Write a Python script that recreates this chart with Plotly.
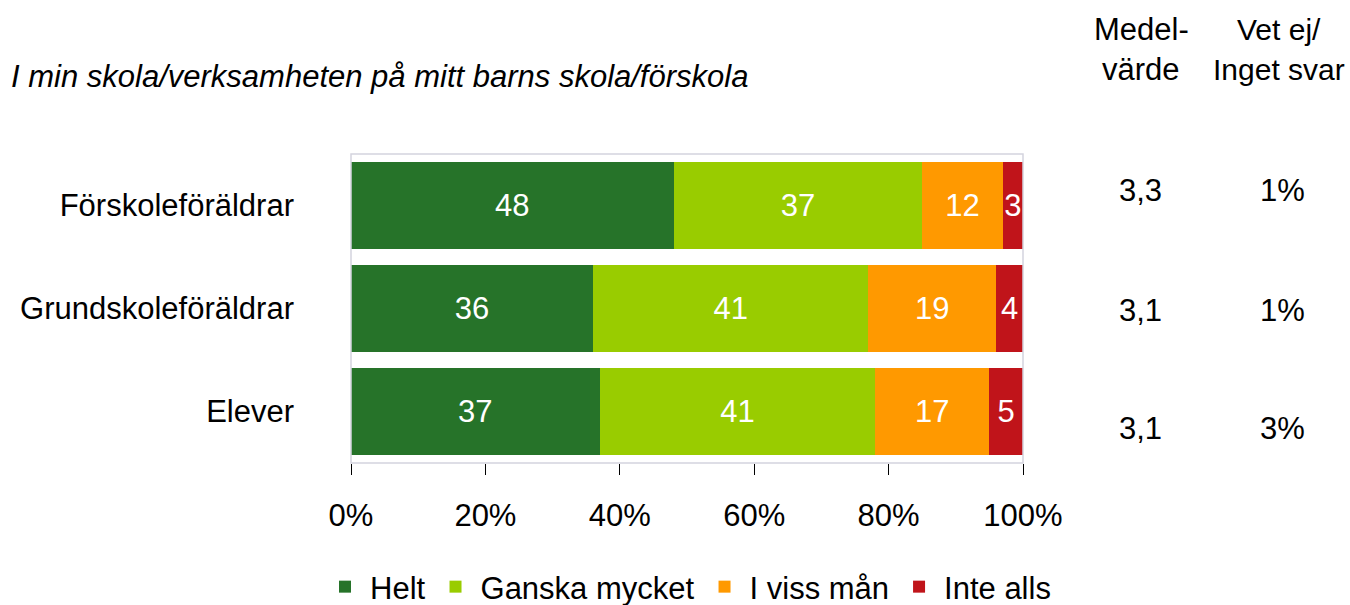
import plotly.graph_objects as go

categories = ["Förskoleföräldrar", "Grundskoleföräldrar", "Elever"]
series_names = ["Helt", "Ganska mycket", "I viss mån", "Inte alls"]
helt = [48, 36, 37]
ganska = [37, 41, 41]
viss = [12, 19, 17]
inte = [3, 4, 5]
medel = ["3,3", "3,1", "3,1"]
vetej = ["1%", "1%", "3%"]
tick_vals = [0, 20, 40, 60, 80, 100]
tick_text = ["0%", "20%", "40%", "60%", "80%", "100%"]
title_text = "I min skola/verksamheten på mitt barns skola/förskola"
header_medel = ["Medel-", "värde"]
header_vetej = ["Vet ej/", "Inget svar"]

colors = ["#267329", "#99CC00", "#FF9900", "#C0141A"]
FONT = "Liberation Sans, Arial, sans-serif"
FS = 31

W, H = 1350, 605
PLOT_TOP, PLOT_BOTTOM, PLOT_LEFT, PLOT_RIGHT = 154, 463, 351, 1023
L, T = PLOT_LEFT, PLOT_TOP
R = W - PLOT_RIGHT
B = H - PLOT_BOTTOM
ph = H - T - B
pw = W - L - R

def py(pix):
    return (PLOT_BOTTOM - pix) / ph

def px(pix):
    return (pix - PLOT_LEFT) / pw

fig = go.Figure()
for name, vals, col in zip(series_names, [helt, ganska, viss, inte], colors):
    fig.add_trace(go.Bar(
        y=categories, x=vals, name=name, orientation="h",
        marker=dict(color=col, line=dict(width=0)),
        text=[str(v) for v in vals], textposition="inside",
        insidetextanchor="middle",
        textfont=dict(color="white", size=FS, family=FONT),
        hoverinfo="skip",
    ))

ann = []
for line, ypix in zip(header_medel, [29, 70]):
    ann.append(dict(text=line, x=px(1141), y=py(ypix), xref="paper", yref="paper",
                    showarrow=False, font=dict(size=FS, family=FONT, color="black"),
                    xanchor="center", yanchor="middle"))
for line, ypix in zip(header_vetej, [29, 70]):
    ann.append(dict(text=line, x=px(1279), y=py(ypix), xref="paper", yref="paper",
                    showarrow=False, font=dict(size=30, family=FONT, color="black"),
                    xanchor="center", yanchor="middle"))
value_y = [190, 310, 428]
for i in range(3):
    ann.append(dict(text=medel[i], x=px(1140), y=py(value_y[i]), xref="paper", yref="paper",
                    showarrow=False, font=dict(size=FS, family=FONT, color="black"),
                    xanchor="center", yanchor="middle"))
    ann.append(dict(text=vetej[i], x=px(1282), y=py(value_y[i]), xref="paper", yref="paper",
                    showarrow=False, font=dict(size=FS, family=FONT, color="black"),
                    xanchor="center", yanchor="middle"))
ann.append(dict(text="<i>" + title_text + "</i>", x=px(750), y=py(77), xref="paper", yref="paper",
                showarrow=False, font=dict(size=FS, family=FONT, color="black"),
                xanchor="right", yanchor="middle"))

fig.update_layout(
    template="none",
    barmode="stack",
    bargap=0.155,
    width=W, height=H,
    margin=dict(l=L, r=R, t=T, b=B, pad=0, autoexpand=False),
    paper_bgcolor="white", plot_bgcolor="white",
    font=dict(family=FONT, size=FS, color="black"),
    showlegend=True,
    legend=dict(orientation="h", x=px(320), y=py(587), xanchor="left", yanchor="middle",
                font=dict(size=FS, family=FONT), traceorder="normal", itemwidth=40,
                tracegroupgap=0, bgcolor="rgba(0,0,0,0)"),
    annotations=ann,
    uniformtext=dict(minsize=FS, mode="show"),
    shapes=[dict(type="rect", xref="paper", yref="paper", x0=0, x1=1, y0=0, y1=1,
                 line=dict(color="#D4D4DE", width=1.5), layer="above")],
)
fig.update_xaxes(range=[0, 100], tickvals=tick_vals, ticktext=tick_text,
                 ticks="outside", ticklen=11, tickcolor="black", tickwidth=1,
                 showgrid=False, zeroline=False, showline=False, automargin=False,
                 ticklabelstandoff=14, tickfont=dict(size=FS, family=FONT))
fig.update_yaxes(autorange="reversed", ticks="", showgrid=False, showline=False,
                 zeroline=False, automargin=False,
                 ticklabelstandoff=56, tickfont=dict(size=FS, family=FONT))

fig.write_html(
    "out.html",
    config={"displayModeBar": False},
    post_script="document.body.style.margin='0';document.documentElement.style.overflow='hidden';",
)
